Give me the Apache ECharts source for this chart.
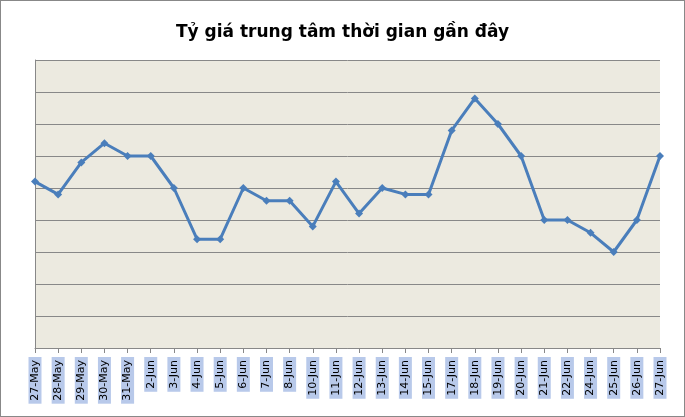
<!DOCTYPE html>
<html>
<head>
<meta charset="utf-8">
<script src="https://cdn.jsdelivr.net/npm/echarts@6/dist/echarts.min.js"></script>
<style>
html,body{margin:0;padding:0;background:#fff;}
#main{width:683px;height:415px;border:1px solid #888;}
</style>
</head>
<body>
<div id="main"></div>
<script>
// danh muc ngay
var dates = ['27-May','28-May','29-May','30-May','31-May','2-Jun','3-Jun','4-Jun','5-Jun','6-Jun',
    '7-Jun','8-Jun','10-Jun','11-Jun','12-Jun','13-Jun','14-Jun','15-Jun','17-Jun','18-Jun',
    '19-Jun','20-Jun','21-Jun','22-Jun','24-Jun','25-Jun','26-Jun','27-Jun'];
// ty gia (don vi luoi)
var rates = [5.2,4.8,5.8,6.4,6.0,6.0,5.0,3.4,3.4,5.0,
    4.6,4.6,3.8,5.2,4.2,5.0,4.8,4.8,6.8,7.8,
    7.0,6.0,4.0,4.0,3.6,3.0,4.0,6.0];

var myChart = echarts.init(document.getElementById('main'));
var option = {
    backgroundColor: '#fff',
    title: {
        text: 'Tỷ giá trung tâm thời gian gần đây',
        left: 'center',
        top: 18,
        textStyle: {color: '#000', fontSize: 17, fontWeight: 'bold', fontFamily: 'DejaVu Sans'}
    },
    grid: {left: 34, right: 24, top: 59, bottom: 68, show: true, backgroundColor: '#eceae0', borderColor: '#888', borderWidth: 0},
    xAxis: {
        type: 'category',
        data: dates,
        boundaryGap: false,
        axisLine: {lineStyle: {color: '#888'}},
        axisTick: {alignWithLabel: true, length: 5, lineStyle: {color: '#888'}},
        axisLabel: {
            rotate: 90, interval: 0, margin: 9,
            color: '#000', fontSize: 11, fontFamily: 'DejaVu Sans',
            backgroundColor: '#b8c9ea', padding: [1, 3, 1, 3]
        }
    },
    yAxis: {
        type: 'value', min: 0, max: 9, interval: 1,
        axisLabel: {show: false},
        axisLine: {show: true, lineStyle: {color: '#888'}},
        axisTick: {show: false},
        splitLine: {lineStyle: {color: '#888', width: 1}}
    },
    series: [{
        type: 'line',
        data: rates,
        symbol: 'diamond',
        symbolSize: 8,
        lineStyle: {color: '#4a7ebb', width: 3},
        itemStyle: {color: '#4a7ebb'}
    }]
};
myChart.setOption(option);
window.onresize = function(){ myChart.resize(); };
</script>
</body>
</html>
